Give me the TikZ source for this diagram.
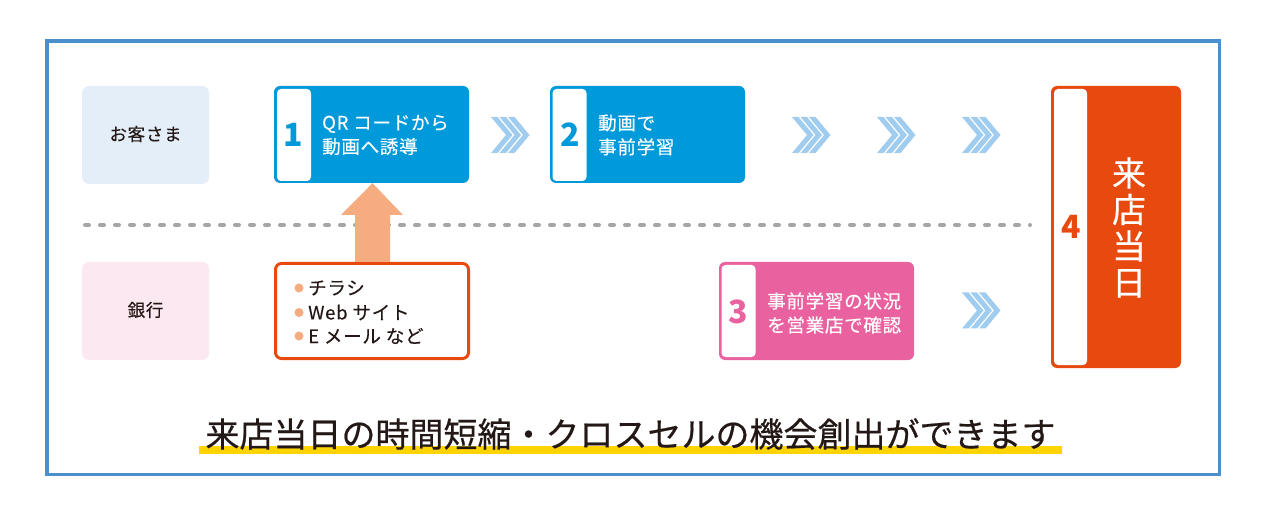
\documentclass[tikz,border=0pt]{standalone}
\usepackage{fontspec}
\newfontfamily\cjk{Noto Sans CJK JP}
\newfontfamily\cjkm{Noto Sans CJK JP}[FakeBold=0.5]
\newfontfamily\cjks{Noto Sans CJK JP}[FakeBold=0.3, LetterSpace=4]
\definecolor{frameblue}{HTML}{4B8FCC}
\definecolor{boxblue}{HTML}{0099D9}
\definecolor{boxorange}{HTML}{E8490F}
\definecolor{boxpink}{HTML}{E9619F}
\definecolor{chevcol}{HTML}{A0CDEF}
\definecolor{arrowor}{HTML}{F4AC80}
\definecolor{lblue}{HTML}{E3EEF8}
\definecolor{lpink}{HTML}{FCE8F1}
\definecolor{dashgray}{HTML}{A6A6A6}
\definecolor{txt}{HTML}{231815}
\definecolor{hilite}{HTML}{FFD400}
\tikzset{
  lanebox/.style={rounded corners=7pt, minimum width=127pt, minimum height=98pt, inner sep=0pt},
  lanetext/.style={font=\cjks\fontsize{17.5}{20}\selectfont, text=txt},
  stepbox/.style={rounded corners=6pt, minimum width=195pt, minimum height=97pt, inner sep=0pt},
  tabbox/.style={fill=white, rounded corners=4pt, minimum width=34pt, minimum height=92pt, inner sep=0pt},
  numtext/.style={font=\cjk\bfseries\fontsize{32}{32}\selectfont, inner sep=0pt},
  steptext/.style={font=\cjks\fontsize{18.5}{24}\selectfont, text=white, align=left, anchor=west, inner sep=0pt},
  listtext/.style={font=\cjks\fontsize{18.5}{20}\selectfont, text=txt, anchor=west, inner sep=0pt},
  bulletdot/.style={circle, fill=arrowor, minimum size=9pt, inner sep=0pt},
  dashline/.style={draw=dashgray, line width=4pt, line cap=round, dash pattern=on 4pt off 11pt},
  chevs/.pic={
    \foreach \k in {0,1,2}{
      \fill[chevcol] ({8.5*\k},-18) -- ({8.5*\k+6.5},-18) -- ({8.5*\k+21.5},0) -- ({8.5*\k+6.5},18) -- ({8.5*\k},18) -- ({8.5*\k+15},0) -- cycle;
    }
  }
}
\begin{document}
\begin{tikzpicture}[x=1pt, y=-1pt]
\useasboundingbox (0,0) rectangle (1276,518);
% frame
\draw[frameblue, line width=3.5pt] (47,41) rectangle (1219.5,474.5);

% lane labels
\node[lanebox, fill=lblue] (cust) at (145.5,135) {};
\node[lanetext] (custt) at (145.5,134) {お客さま};
\node[lanebox, fill=lpink] (bank) at (145.5,311) {};
\node[lanetext] (bankt) at (145.5,310) {銀行};

% dashed separator
\coordinate (dl) at (85,225);
\coordinate (dr) at (1030,225);
\draw[dashline] (dl) -- (dr);

% step 1
\node[stepbox, fill=boxblue] (s1) at (371.5,134.5) {};
\node[tabbox] (s1tab) at (294,135) {};
\node[numtext, text=boxblue] (n1) at (293.5,135) {1};
\node[steptext] (s1t) at (322,135) {QR コードから\\動画へ誘導};

% step 2
\node[stepbox, fill=boxblue] (s2) at (647.5,134.5) {};
\node[tabbox] (s2tab) at (569.5,135) {};
\node[numtext, text=boxblue] (n2) at (570,135) {2};
\node[steptext] (s2t) at (598,135) {動画で\\事前学習};

% bank list box
\node[draw=boxorange, line width=3pt, fill=white, rounded corners=6pt, minimum width=193pt, minimum height=95pt, inner sep=0pt] (media) at (372,311) {};
\node[bulletdot] (d1) at (299,288) {};
\node[bulletdot] (d2) at (299,312.5) {};
\node[bulletdot] (d3) at (299,336) {};
\node[listtext] (m1) at (308,288) {チラシ};
\node[listtext] (m2) at (308,312.5) {Web サイト};
\node[listtext] (m3) at (308,336) {E メール など};

% orange up arrow from media box to step 1
\fill[arrowor] (media.north -| 355,0) -- (355,215) -- (341,215) -- (s1.south -| 372.5,0) -- (403,215) -- (390,215) -- (media.north -| 390,0) -- cycle;

% step 3
\node[stepbox, fill=boxpink, minimum height=98pt] (s3) at (816.5,311) {};
\node[tabbox] (s3tab) at (738.5,311) {};
\node[numtext, text=boxpink] (n3) at (738.5,312) {3};
\node[steptext] (s3t) at (767,313) {事前学習の状況\\を営業店で確認};

% step 4
\node[rounded corners=6pt, fill=boxorange, minimum width=130pt, minimum height=282pt, inner sep=0pt] (s4) at (1116,227) {};
\node[tabbox, minimum width=33pt, minimum height=276pt] (s4tab) at (1070.5,227) {};
\node[numtext, text=boxorange] (n4) at (1071,227) {4};
\node[font=\cjkm\fontsize{34}{36.5}\selectfont, text=white, align=center, inner sep=0pt] (s4t) at (1129,227.5) {来\\店\\当\\日};

% chevrons
\pic (c1) at (491,135) {chevs};
\pic (c2) at (792,135) {chevs};
\pic (c3) at (877,135) {chevs};
\pic (c4) at (962,135) {chevs};
\pic (c5) at (962,310.5) {chevs};

% bottom message
\fill[hilite] (199,446) rectangle (1062,454);
\node[font=\cjkm\fontsize{34}{36}\selectfont, text=txt, inner sep=0pt] (msg) at (630.5,434) {来店当日の時間短縮・クロスセルの機会創出ができます};
\end{tikzpicture}
\end{document}
